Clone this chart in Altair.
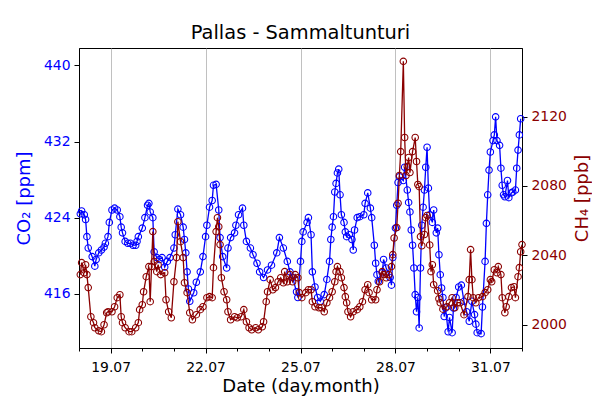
#!/usr/bin/env python3
"""Pallas - Sammaltunturi CO2 / CH4 chart
"""
import altair as alt
import pandas as pd

OUTPUT_FILE = 'out.html'
START = '2019-07-18'

# hours after 18.07 00:00 UTC
co2_hours = [
    1, 2, 4, 5, 6, 7, 10, 12, 13, 15,
    17, 19, 20, 22, 23, 25, 27, 29, 31, 32,
    33, 35, 37, 39, 41, 43, 44, 45, 48, 50,
    52, 53, 54, 56, 57, 59, 61, 63, 65, 67,
    69, 72, 73, 75, 77, 79, 80, 81, 82, 83,
    84, 87, 89, 92, 94, 96, 97, 99, 101, 102,
    104, 106, 107, 109, 112, 113, 115, 118, 119, 121,
    124, 125, 127, 130, 132, 135, 137, 140, 143, 146,
    150, 152, 155, 158, 160, 162, 165, 166, 168, 169,
    170, 173, 174, 176, 177, 179, 181, 183, 186, 188,
    190, 191, 192, 193, 194, 195, 196, 197, 198, 199,
    201, 202, 203, 205, 207, 208, 209, 211, 213, 216,
    217, 219, 221, 222, 224, 225, 226, 227, 230, 231,
    233, 236, 237, 238, 240, 241, 242, 243, 246, 247,
    249, 250, 251, 252, 253, 254, 255, 256, 257, 258,
    259, 260, 261, 262, 263, 264, 265, 266, 268, 269,
    271, 272, 273, 274, 275, 276, 277, 278, 280, 281,
    283, 284, 286, 288, 290, 292, 294, 296, 298, 300,
    301, 302, 305, 306, 308, 309, 310, 311, 312, 314,
    315, 316, 317, 319, 320, 321, 322, 323, 325, 326,
    328, 329, 331, 332, 333, 334, 335,
]
co2_ppm = [
    424.4, 424.7, 424.3, 423.8, 422.0, 420.8, 419.9, 418.9, 419.6, 420.3,
    420.6, 420.9, 421.3, 422.0, 423.5, 424.8, 425.0, 424.8, 424.1, 423.0,
    422.4, 421.5, 421.3, 421.3, 421.1, 421.1, 421.5, 422.0, 422.9, 424.0,
    425.3, 425.5, 424.6, 424.0, 420.4, 419.8, 419.6, 419.8, 418.8, 419.4,
    419.8, 420.8, 422.2, 424.9, 424.3, 423.0, 421.7, 420.3, 418.3, 416.5,
    415.2, 416.1, 417.2, 418.3, 419.9, 422.0, 423.2, 425.1, 425.8, 427.4,
    427.5, 424.8, 421.9, 419.9, 418.7, 420.8, 421.9, 422.4, 423.2, 424.3,
    425.0, 423.2, 421.5, 420.8, 420.1, 419.2, 418.3, 417.7, 418.5, 419.0,
    420.3, 421.9, 420.8, 419.4, 418.3, 417.7, 416.2, 415.6, 419.4, 421.5,
    422.5, 423.5, 424.0, 422.2, 418.3, 416.7, 415.6, 415.2, 415.9, 417.5,
    419.4, 421.7, 423.0, 424.1, 426.7, 427.6, 428.7, 429.1, 426.4, 424.3,
    423.5, 422.5, 422.0, 422.2, 421.7, 420.6, 422.7, 424.0, 424.1, 424.3,
    425.5, 426.6, 425.0, 424.0, 421.1, 419.2, 418.0, 417.3, 418.2, 419.6,
    418.7, 417.7, 416.9, 419.8, 422.9, 425.3, 427.7, 428.3, 427.9, 429.3,
    426.9, 425.6, 424.6, 422.7, 421.1, 418.7, 415.9, 414.1, 415.6, 412.4,
    418.7, 423.2, 425.1, 426.9, 429.3, 431.4, 427.1, 424.3, 423.5, 424.8,
    422.4, 422.9, 420.1, 418.0, 416.6, 415.6, 413.6, 414.5, 412.0, 413.5,
    411.9, 414.5, 415.6, 416.7, 416.9, 415.2, 414.1, 413.1, 415.2, 413.8,
    412.8, 411.9, 411.8, 414.6, 419.4, 423.4, 426.4, 429.0, 430.9, 432.1,
    432.7, 434.6, 432.1, 431.6, 429.2, 427.4, 426.4, 426.2, 427.9, 426.1,
    426.6, 426.7, 426.9, 429.2, 431.1, 432.7, 434.4,
]

ch4_hours = [
    1, 2, 4, 5, 6, 7, 9, 11, 12, 15,
    17, 19, 21, 22, 25, 27, 29, 31, 32, 33,
    35, 38, 40, 43, 45, 46, 48, 49, 51, 53,
    54, 55, 56, 57, 59, 60, 62, 65, 66, 68,
    70, 72, 74, 75, 77, 79, 80, 82, 84, 86,
    89, 92, 94, 97, 99, 101, 102, 104, 105, 106,
    107, 108, 110, 112, 113, 115, 118, 120, 123, 125,
    127, 129, 131, 134, 136, 139, 140, 142, 143, 145,
    147, 149, 151, 153, 155, 156, 158, 160, 162, 164,
    166, 167, 169, 172, 174, 176, 177, 179, 182, 184,
    186, 188, 190, 192, 194, 195, 196, 198, 199, 201,
    202, 203, 204, 206, 208, 211, 213, 215, 217, 219,
    220, 222, 225, 226, 228, 230, 231, 233, 235, 237,
    238, 239, 241, 242, 243, 244, 246, 247, 248, 249,
    250, 251, 253, 255, 256, 257, 258, 259, 260, 262,
    263, 264, 266, 267, 268, 269, 272, 273, 274, 276,
    279, 281, 283, 285, 287, 289, 292, 295, 296, 297,
    298, 299, 301, 303, 306, 308, 310, 312, 313, 315,
    317, 318, 320, 321, 323, 324, 326, 328, 330, 331,
    333, 334, 335, 336,
]
ch4_ppb = [
    2028.9, 2035.8, 2030.0, 2034.6, 2028.9, 2021.4, 2004.6, 2001.2, 1998.3, 1996.5,
    1996.0, 2000.0, 2006.9, 2007.5, 2007.5, 2010.4, 2015.6, 2017.3, 2004.6, 2001.2,
    1998.3, 1996.0, 1996.0, 1998.3, 2001.2, 2008.7, 2011.5, 2019.0, 2027.7, 2033.5,
    2013.3, 2033.5, 2053.7, 2036.4, 2030.6, 2034.6, 2028.9, 2030.0, 2014.4, 2007.5,
    2004.0, 2024.8, 2038.7, 2059.4, 2047.9, 2038.7, 2024.2, 2018.5, 2006.9, 2002.9,
    2005.8, 2008.7, 2010.4, 2015.6, 2016.2, 2015.6, 2032.9, 2053.7, 2061.7, 2056.5,
    2046.2, 2027.1, 2019.0, 2014.4, 2007.5, 2002.9, 2004.6, 2004.0, 2004.6, 2008.7,
    2001.7, 1998.3, 1997.1, 1998.3, 1997.1, 1998.8, 2001.7, 2013.3, 2019.0, 2026.0,
    2020.2, 2021.4, 2024.8, 2027.1, 2024.2, 2030.6, 2024.8, 2028.9, 2024.8, 2028.9,
    2027.1, 2018.5, 2015.6, 2018.5, 2020.2, 2020.2, 2013.3, 2010.4, 2009.8, 2009.8,
    2007.5, 2012.7, 2015.6, 2019.0, 2024.8, 2030.6, 2033.5, 2030.6, 2027.1, 2021.4,
    2016.2, 2012.7, 2007.5, 2004.6, 2007.5, 2008.7, 2010.4, 2013.3, 2020.2, 2023.1,
    2018.5, 2014.4, 2014.4, 2020.2, 2024.8, 2030.6, 2028.9, 2027.1, 2028.9, 2033.5,
    2040.4, 2050.0, 2056.0, 2070.0, 2086.0, 2099.8, 2151.8, 2107.9, 2086.0, 2091.2,
    2096.4, 2087.7, 2099.8, 2107.9, 2094.1, 2080.8, 2079.6, 2050.8, 2045.5, 2052.0,
    2061.7, 2063.0, 2046.0, 2030.6, 2034.6, 2023.1, 2019.6, 2015.0, 2012.7, 2009.0,
    2010.4, 2012.7, 2015.6, 2009.8, 2012.7, 2012.7, 2005.8, 2016.2, 2026.0, 2043.3,
    2026.0, 2015.6, 2012.7, 2015.6, 2016.2, 2018.5, 2020.2, 2026.0, 2024.8, 2031.7,
    2030.0, 2033.5, 2028.9, 2015.6, 2006.9, 2010.4, 2016.2, 2021.4, 2021.9, 2015.6,
    2027.7, 2032.9, 2042.1, 2046.2,
]

CO2_COLOR = '#0000ff'
CH4_COLOR = '#8b0000'
FONT = 'DejaVu Sans'


def to_frame(hours, values, name):
    t = pd.Timestamp(START) + pd.to_timedelta(hours, unit='h')
    return pd.DataFrame({'time': t.strftime('%Y-%m-%dT%H:%M:%SZ'), name: values})


co2_df = to_frame(co2_hours, co2_ppm, 'co2')
ch4_df = to_frame(ch4_hours, ch4_ppb, 'ch4')

day_ticks = [alt.DateTime(year=2019, month=7, date=d, utc=True) for d in range(18, 32)]
day_ticks.append(alt.DateTime(year=2019, month=8, date=1, utc=True))
major = 'utcmonth(datum.value) == 6 && utcdate(datum.value) % 3 == 1'

x_enc = alt.X(
    'time:T',
    scale=alt.Scale(
        type='utc',
        domain=[alt.DateTime(year=2019, month=7, date=18, utc=True),
                alt.DateTime(year=2019, month=8, date=1, utc=True)],
    ),
    axis=alt.Axis(
        title='Date (day.month)',
        values=day_ticks,
        labelExpr=f"{major} ? utcFormat(datum.value, '%d.%m') : ''",
        grid=True,
        gridColor='#b0b0b0',
        gridWidth=0.8,
        gridOpacity={'condition': {'test': major, 'value': 1}, 'value': 0},
        tickSize={'condition': {'test': major, 'value': 5}, 'value': 3},
        labelPadding=7,
        titlePadding=4,
    ),
)

co2_base = alt.Chart(co2_df).encode(
    x_enc,
    alt.Y(
        'co2:Q',
        scale=alt.Scale(domain=[410.29, 441.84], nice=False, zero=False),
        axis=alt.Axis(
            orient='left', values=[416, 424, 432, 440], title='CO₂ [ppm]',
            titleColor=CO2_COLOR, labelColor=CO2_COLOR, grid=False,
            tickSize=5, labelPadding=4, titlePadding=10,
        ),
    ),
)
co2 = co2_base.mark_line(color=CO2_COLOR, strokeWidth=1.3) + co2_base.mark_point(
    color=CO2_COLOR, filled=False, size=42, strokeWidth=1.1, opacity=1
)

ch4_base = alt.Chart(ch4_df).encode(
    x_enc,
    alt.Y(
        'ch4:Q',
        scale=alt.Scale(domain=[1986.6, 2159.5], nice=False, zero=False),
        axis=alt.Axis(
            orient='right', values=[2000, 2040, 2080, 2120], format='d',
            title='CH₄ [ppb]', titleColor=CH4_COLOR, labelColor=CH4_COLOR,
            grid=False, tickSize=5, labelPadding=4, titlePadding=7,
            titleAngle=270, titleBaseline='top',
        ),
    ),
)
ch4 = ch4_base.mark_line(color=CH4_COLOR, strokeWidth=1.3) + ch4_base.mark_point(
    color=CH4_COLOR, filled=False, size=42, strokeWidth=1.1, opacity=1
)

chart = alt.layer(co2, ch4).resolve_scale(y='independent').properties(
    width=443,
    height=300,
    title=alt.TitleParams(
        'Pallas - Sammaltunturi', fontSize=19.4, fontWeight='normal',
        font=FONT, color='black', offset=5,
    ),
    autosize=alt.AutoSizeParams(type='none'),
    padding={'left': 71, 'top': 40, 'right': 70, 'bottom': 52},
).configure_view(
    stroke='black', strokeWidth=1
).configure_axis(
    labelFont=FONT, titleFont=FONT, labelFontSize=13.9, titleFontSize=18,
    titleFontWeight='normal', domainColor='black', tickColor='black',
    labelColor='black', titleColor='black',
)

chart.save(OUTPUT_FILE, embed_options={'renderer': 'svg', 'actions': False})
